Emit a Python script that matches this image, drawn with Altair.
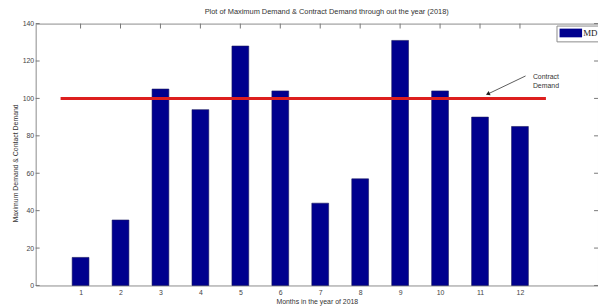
import altair as alt
import pandas as pd

months = list(range(1, 13))
md = [15, 35, 105, 94, 128, 104, 44, 57, 131, 104, 90, 85]
contract_x = [0.5, 12.65]
contract_y = [100, 100]
y_ticks = [0, 20, 40, 60, 80, 100, 120, 140]
arrow_x = [12.14, 11.21]
arrow_y = [112, 102.5]
note_x = [12.65]
note_y = [111.5]
note_text = ["Contract\nDemand"]

W, H = 569, 265
FONT = "Liberation Sans"
xs = alt.Scale(domain=[0, 13.83], nice=False, zero=False)
ys = alt.Scale(domain=[0, 140], nice=False)
XT = "Months in the year of 2018"
YT = "Maximum Demand & Contact Demand"

bars_df = pd.DataFrame({"month": months, "md": md, "series": ["MD"] * 12})
bars = alt.Chart(bars_df).mark_bar(size=17, stroke="#1a1a60", strokeWidth=0.6).encode(
    x=alt.X("month:Q", scale=xs, title=XT,
            axis=alt.Axis(values=months, tickSize=0, labelOverlap=False,
                          labelPadding=3, titlePadding=2, grid=False, domain=False)),
    y=alt.Y("md:Q", scale=ys, title=YT,
            axis=alt.Axis(values=y_ticks, tickSize=0, labelOverlap=False, tickCount=8,
                          labelPadding=2, titlePadding=4, grid=False, domain=False, titleY=141)),
    color=alt.Color("series:N", scale=alt.Scale(domain=["MD"], range=["#00008E"]),
                    legend=alt.Legend(title=None, orient="none", legendX=527, legendY=2,
                                      strokeColor="#8a8a8a", fillColor="white", padding=3,
                                      symbolType="M-2.85,-1.1L2.85,-1.1L2.85,1.1L-2.85,1.1Z",
                                      symbolSize=64, symbolStrokeWidth=0, symbolOffset=7,
                                      labelFont="Liberation Serif", labelFontSize=9,
                                      labelColor="#222", labelOffset=8)),
)

def xe():
    return alt.X("month:Q", scale=xs, title=XT)

def ye():
    return alt.Y("md:Q", scale=ys, title=YT)

line_df = pd.DataFrame({"month": contract_x, "md": contract_y})
cline = alt.Chart(line_df).mark_line(color="#DD1F1E", strokeWidth=3).encode(x=xe(), y=ye())

arr_df = pd.DataFrame({"month": arrow_x, "md": arrow_y, "o": [0, 1]})
arrow = alt.Chart(arr_df).mark_line(color="#333", strokeWidth=0.8).encode(
    x=xe(), y=ye(), order="o:Q")
head_df = pd.DataFrame({"month": arrow_x[1:], "md": arrow_y[1:]})
head = alt.Chart(head_df).mark_point(shape="triangle", filled=True, color="#222", size=22,
                                      angle=245, opacity=1).encode(x=xe(), y=ye())

note_df = pd.DataFrame({"month": note_x, "md": note_y, "t": note_text})
note = alt.Chart(note_df).mark_text(font=FONT, fontSize=7, color="#333", lineBreak="\n",
                                    align="center", baseline="middle", lineHeight=9).encode(
    x=xe(), y=ye(), text="t:N")

xt_df = pd.DataFrame({"month": months})
top_ticks = alt.Chart(xt_df).mark_rule(color="#777", strokeWidth=1).encode(
    x=xe(), y=alt.value(0), y2=alt.value(5))
yt_df = pd.DataFrame({"md": y_ticks})
left_ticks = alt.Chart(yt_df).mark_rule(color="#777", strokeWidth=1).encode(
    y=ye(), x=alt.value(0), x2=alt.value(4))
right_ticks = alt.Chart(yt_df).mark_rule(color="#777", strokeWidth=1).encode(
    y=ye(), x=alt.value(W - 4), x2=alt.value(W))

chart = alt.layer(bars, top_ticks, left_ticks, right_ticks, cline, arrow, head, note).properties(
    width=W, height=H,
    title=alt.TitleParams("Plot of Maximum Demand & Contract Demand through out the year (2018)",
                          font=FONT, fontSize=7.5, fontWeight="normal", color="#333",
                          anchor="middle", frame="group", dx=10, offset=4),
    autosize="none",
    padding={"left": 28, "top": 14, "right": 0, "bottom": 20},
).configure_view(stroke="#8a8a8a", strokeWidth=1).configure_axis(
    labelFont=FONT, labelFontSize=7, labelColor="#444", titleFont=FONT, titleFontSize=7,
    titleFontWeight="normal", titleColor="#333", labelOverlap=False
).configure_axisY(labelOverlap=False)

chart.save("out.html", embed_options={"renderer": "svg", "actions": False})
